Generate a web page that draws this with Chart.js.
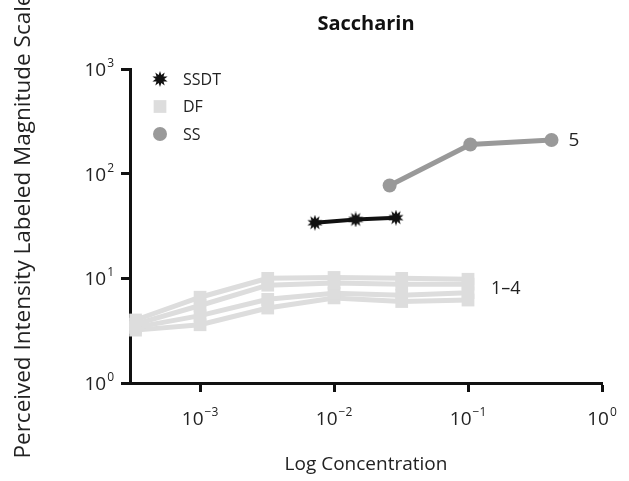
<!DOCTYPE html>
<html>
<head>
<meta charset="utf-8">
<script src="https://cdn.jsdelivr.net/npm/chart.js@4.4.1/dist/chart.umd.min.js"></script>
<style>
  html, body { margin: 0; padding: 0; background: #fff; }
</style>
</head>
<body>
<canvas id="chart" width="629" height="481"></canvas>
<script>
// concentrations (x) and perceived intensity (y)
const dfConc = [0.00033, 0.001, 0.0032, 0.01, 0.032, 0.1];
const df1 = [4.0, 6.6, 10.0, 10.2, 10.0, 9.8];
const df2 = [3.65, 5.5, 8.6, 9.0, 8.8, 8.8];
const df3 = [3.4, 4.4, 6.3, 7.2, 6.9, 7.3];
const df4 = [3.2, 3.6, 5.2, 6.5, 6.0, 6.2];
const ssdtConc = [0.0072, 0.0145, 0.029];
const ssdtVals = [34, 36.5, 38];
const ssConc = [0.026, 0.104, 0.42];
const ssVals = [77, 190, 210];

const xTicks = [0.001, 0.01, 0.1, 1];
const xExp = ['\u22123', '\u22122', '\u22121', '0'];
const yTicks = [1, 10, 100, 1000];
const yExp = ['0', '1', '2', '3'];
const legendLabels = ['SSDT', 'DF', 'SS'];
const noteSS = '5';
const noteDF = '1\u20134';

const FONT = '"Open Sans", "Noto Sans", sans-serif';

function pairs(xs, ys) {
    return xs.map((x, i) => ({ x: x, y: ys[i] }));
}

// filled starburst used as the SSDT marker
function makeStar(size, color) {
    const c = document.createElement('canvas');
    c.width = size;
    c.height = size;
    const g = c.getContext('2d');
    const n = 10;
    g.beginPath();
    for (let i = 0; i < 2 * n; i++) {
        const r = i % 2 ? size * 0.27 : size / 2;
        const a = Math.PI * i / n - Math.PI / 2;
        g.lineTo(size / 2 + r * Math.cos(a), size / 2 + r * Math.sin(a));
    }
    g.closePath();
    g.fillStyle = color;
    g.fill();
    return c;
}
const star = makeStar(16, '#111');

function dfSet(vals) {
    return {
        label: 'DF',
        data: pairs(dfConc, vals),
        borderColor: '#dddddd',
        borderWidth: 5,
        pointStyle: 'rect',
        pointRadius: 9,
        pointBackgroundColor: '#dddddd',
        pointBorderWidth: 0,
        clip: false
    };
}

function drawPow(ctx, x, y, exp, align) {
    ctx.font = '19px ' + FONT;
    const bw = ctx.measureText('10').width;
    ctx.font = '12px ' + FONT;
    const ew = ctx.measureText(exp).width;
    const left = align === 'center' ? x - (bw + ew + 1) / 2 : x - (bw + ew + 1);
    ctx.textAlign = 'left';
    ctx.textBaseline = 'alphabetic';
    ctx.font = '19px ' + FONT;
    ctx.fillText('10', left, y);
    ctx.font = '12px ' + FONT;
    ctx.fillText(exp, left + bw + 1, y - 9);
}

const extras = {
    id: 'extras',
    afterDraw(chart) {
        const ctx = chart.ctx;
        const xs = chart.scales.x;
        const ys = chart.scales.y;
        const area = chart.chartArea;
        ctx.save();
        ctx.fillStyle = '#222';

        // tick labels with superscript exponents
        xTicks.forEach((v, i) => drawPow(ctx, xs.getPixelForValue(v), xs.top + 42, xExp[i], 'center'));
        yTicks.forEach((v, i) => drawPow(ctx, ys.right - 16, ys.getPixelForValue(v) + 7, yExp[i], 'right'));

        // legend inside the plot
        const items = [0, 2, 1];
        items.forEach((dsIndex, i) => {
            const ds = chart.data.datasets[dsIndex];
            const mx = area.left + 30;
            const my = area.top + 10 + i * 27.5;
            ctx.fillStyle = ds.pointBackgroundColor || ds.borderColor;
            ctx.strokeStyle = ds.borderColor;
            Chart.helpers.drawPoint(ctx, {
                pointStyle: ds.pointStyle,
                radius: ds.pointRadius,
                borderWidth: 0,
                rotation: 0
            }, mx, my);
            ctx.fillStyle = '#222';
            ctx.font = '16px ' + FONT;
            ctx.textAlign = 'left';
            ctx.textBaseline = 'middle';
            ctx.fillText(legendLabels[i], area.left + 53, my + 1);
        });

        // series notes
        ctx.textAlign = 'left';
        ctx.textBaseline = 'middle';
        ctx.font = '19px ' + FONT;
        const lastSS = ssConc.length - 1;
        ctx.fillText(noteSS, xs.getPixelForValue(ssConc[lastSS]) + 17, ys.getPixelForValue(ssVals[lastSS]) + 1);
        ctx.font = '18px ' + FONT;
        const lastDF = dfConc.length - 1;
        const dfMid = ([df1, df2, df3, df4].reduce((s, a) => s + ys.getPixelForValue(a[lastDF]), 0)) / 4;
        ctx.fillText(noteDF, xs.getPixelForValue(dfConc[lastDF]) + 23, dfMid);
        ctx.restore();
    }
};

const axisCommon = {
    type: 'logarithmic',
    z: 1,
    ticks: { display: false },
    grid: { drawOnChartArea: false, drawTicks: true, tickLength: 9, tickWidth: 3, tickColor: '#111' },
    border: { display: true, width: 3, color: '#111' }
};

new Chart(document.getElementById('chart'), {
    type: 'line',
    data: {
        datasets: [
            {
                label: 'SSDT',
                data: pairs(ssdtConc, ssdtVals),
                borderColor: '#111',
                borderWidth: 4,
                pointStyle: star,
                pointRadius: 8,
                clip: false
            },
            {
                label: 'SS',
                data: pairs(ssConc, ssVals),
                borderColor: '#999999',
                borderWidth: 5,
                pointStyle: 'circle',
                pointRadius: 7,
                pointBackgroundColor: '#999999',
                pointBorderWidth: 0,
                clip: false
            },
            dfSet(df1),
            dfSet(df2),
            dfSet(df3),
            dfSet(df4)
        ]
    },
    options: {
        responsive: false,
        animation: false,
        layout: { padding: { top: 6, right: 27, bottom: 0, left: 0 } },
        elements: { line: { tension: 0 } },
        plugins: {
            legend: { display: false },
            tooltip: { enabled: false },
            title: {
                display: true,
                fullSize: false,
                text: 'Saccharin',
                color: '#111',
                font: { family: FONT, size: 20, weight: 'bold' },
                padding: { top: 6, bottom: 33 }
            }
        },
        scales: {
            x: Object.assign({}, axisCommon, {
                position: 'bottom',
                min: 0.000316,
                max: 1,
                afterBuildTicks: s => { s.ticks = xTicks.map(v => ({ value: v })); },
                afterFit: s => { s.height = 98; },
                title: {
                    display: true,
                    text: 'Log Concentration',
                    color: '#222',
                    font: { family: FONT, size: 19 },
                    padding: { top: 0, bottom: 5 }
                }
            }),
            y: Object.assign({}, axisCommon, {
                position: 'left',
                min: 1,
                max: 1000,
                afterBuildTicks: s => { s.ticks = yTicks.map(v => ({ value: v })); },
                afterFit: s => { s.width = 130; },
                title: {
                    display: true,
                    text: 'Perceived Intensity Labeled Magnitude Scale',
                    color: '#222',
                    font: { family: FONT, size: 22.5 },
                    padding: { top: 10, bottom: 0 }
                }
            })
        }
    },
    plugins: [extras]
});
</script>
</body>
</html>
